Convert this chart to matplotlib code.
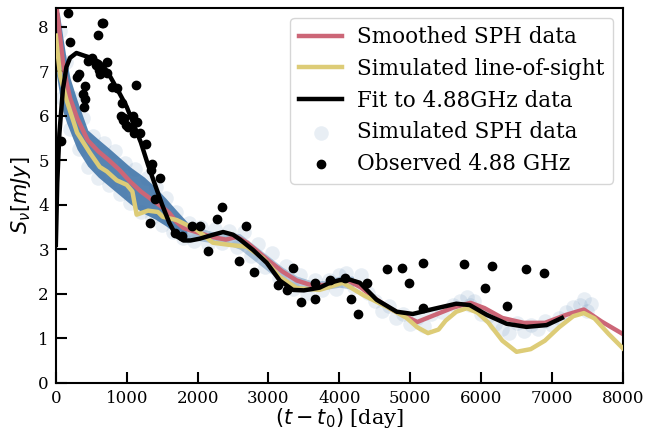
"""Radio light curve: SPH simulation vs observed 4.88 GHz flux."""

import matplotlib
matplotlib.use("agg")
import matplotlib.pyplot as plt
import numpy as np

# Smoothed SPH data (red)
smooth_t = [0, 50, 100, 150, 200, 300, 450, 600, 750, 900, 1050, 1200, 1350, 1500,
            1600, 1700, 1800, 2000, 2200, 2400, 2550, 2700, 2850, 3000, 3200, 3400,
            3600, 3800, 4000, 4100, 4300, 4500, 4750, 5100, 5350, 5600, 5850, 6050,
            6300, 6600, 6900, 7200, 7450, 7700, 8000]
smooth_s = [8.6, 7.9, 7.2, 6.75, 6.4, 5.95, 5.45, 5.2, 5.0, 4.78, 4.52, 4.3, 4.12, 3.95,
            3.82, 3.62, 3.48, 3.38, 3.28, 3.22, 3.28, 3.15, 2.95, 2.75, 2.5, 2.3,
            2.2, 2.2, 2.3, 2.32, 2.15, 1.9, 1.64, 1.37, 1.53, 1.69, 1.8, 1.68,
            1.46, 1.35, 1.35, 1.53, 1.65, 1.38, 1.1]

# Simulated line-of-sight (yellow)
los_t = [0, 60, 150, 300, 480, 620, 720, 860, 1000, 1080, 1140, 1300, 1440, 1510, 1705,
         1985, 2215, 2455, 2690, 2920, 3160, 3400, 3720, 4050, 4330, 4670, 4950, 5100,
         5250, 5400, 5500, 5650, 5800, 5950, 6100, 6300, 6500, 6700, 6900, 7100, 7300,
         7450, 7600, 7800, 8000]
los_s = [7.8, 6.9, 6.36, 5.62, 5.17, 4.85, 4.75, 4.55, 4.45, 4.3, 3.78, 3.87, 3.84, 3.73, 3.66,
         3.44, 3.15, 3.1, 3.06, 2.81, 2.38, 2.13, 2.09, 2.25, 1.98, 1.71, 1.46, 1.25,
         1.12, 1.2, 1.4, 1.6, 1.68, 1.58, 1.36, 0.95, 0.7, 0.76, 0.95, 1.25, 1.5,
         1.57, 1.45, 1.1, 0.78]

# Fit to 4.88 GHz data (black)
fit_t = [0, 20, 50, 100, 150, 200, 290, 400, 500, 620, 700, 760, 900, 1000, 1100, 1200,
         1300, 1400, 1500, 1600, 1700, 1800, 1900, 2030, 2200, 2360, 2500, 2600, 2780,
         2975, 3160, 3345, 3500, 3720, 3865, 4005, 4150, 4290, 4525, 4810, 5035, 5320,
         5650, 5840, 6080, 6360, 6640, 6925, 7140]
fit_s = [3.1, 4.5, 5.6, 6.6, 7.1, 7.3, 7.41, 7.35, 7.3, 7.2, 7.05, 6.9, 6.5, 6.2, 5.8, 5.4,
         4.9, 4.45, 4.0, 3.6, 3.3, 3.2, 3.2, 3.24, 3.32, 3.39, 3.33, 3.22, 2.99,
         2.7, 2.3, 2.09, 2.08, 2.14, 2.25, 2.31, 2.32, 2.25, 1.87, 1.6, 1.55, 1.66,
         1.78, 1.75, 1.53, 1.33, 1.26, 1.3, 1.46]

# Observed 4.88 GHz
obs_t = [70, 169, 200, 295, 325, 380, 395, 410, 410, 455, 510, 565, 600, 610, 620, 645, 665,
         720, 720, 790, 860, 915, 930, 945, 960, 990, 1015, 1090, 1100, 1130, 1140, 1185,
         1270, 1340, 1355, 1395, 1470, 1335, 1680, 1775, 1915, 2030, 2145, 2270, 2340,
         2585, 2690, 2795, 3130, 3255, 3345, 3465, 3650, 3650, 3865, 4075, 4170, 4260,
         4385, 4670, 4890, 4980, 5175, 5180, 5755, 6050, 6150, 6360, 6630, 6885]
obs_s = [5.44, 8.31, 7.66, 6.87, 6.94, 6.49, 6.2, 6.37, 6.67, 7.22, 7.3, 7.14, 7.82, 7.03, 6.94,
         8.09, 8.09, 7.2, 6.96, 6.65, 6.62, 6.0, 6.29, 5.91, 5.95, 5.8, 5.75, 6.0, 5.62, 6.7,
         5.87, 5.62, 5.37, 4.79, 4.92, 4.13, 4.61, 3.6, 3.37, 3.29, 3.53, 3.53, 2.97, 3.69,
         3.95, 2.75, 3.53, 2.5, 2.2, 2.09, 2.58, 1.82, 1.89, 2.25, 2.31, 2.36, 1.89, 1.55,
         2.24, 2.56, 2.58, 2.24, 1.68, 2.7, 2.67, 2.13, 2.63, 1.73, 2.56, 2.47]

# Simulated SPH data: dense core of the point cloud (edges of the band)
band_t = [0, 50, 100, 150, 200, 300, 450, 600, 750, 900, 1050, 1250, 1400, 1550, 1700,
          1850, 2000, 2200, 2400, 2600, 2800, 3000, 3200, 3400, 3600, 3800, 4000, 4200]
band_lo = [7.0, 6.5, 6.1, 5.85, 5.65, 5.25, 4.87, 4.62, 4.42, 4.22, 4.02, 3.8, 3.68, 3.53, 3.35,
           3.25, 3.2, 3.15, 3.12, 3.0, 2.75, 2.5, 2.25, 2.1, 2.05, 2.1, 2.15, 2.1]
band_hi = [8.45, 8.3, 7.75, 7.25, 6.85, 6.35, 5.68, 5.47, 5.27, 5.06, 4.85, 4.62, 4.4, 4.15, 3.88,
           3.62, 3.5, 3.4, 3.4, 3.35, 3.1, 2.85, 2.6, 2.4, 2.3, 2.3, 2.4, 2.4]
DENSE_END = 15  # index where the cloud becomes sparse

# Simulated SPH data: individual points
sph_t = [20, 60, 90, 150, 200, 260, 320, 380, 450, 520, 600, 680, 750, 830, 900, 980, 1050,
         1120, 1200, 1280, 1350, 1420, 1500, 1560, 1650, 1700, 1800, 1880, 1950, 2050,
         2150, 2250, 2350, 2450, 2550, 2650, 2750, 2850, 2950, 3050, 3150, 3250, 3350,
         3450, 3550, 3650, 3750, 3850, 3950, 4000, 4100, 4200, 4300, 4400, 4500, 4600,
         4700, 4800, 4900, 5000, 5100, 5200, 5300, 5450, 5600, 5700, 5800, 5850, 5900,
         6000, 6100, 6200, 6300, 6400, 6500, 6600, 6700, 6800, 6900, 7000, 7100, 7200,
         7300, 7400, 7450, 7500, 7550]
sph_s = [7.5, 7.9, 6.4, 7.2, 5.7, 6.4, 5.25, 5.95, 4.85, 5.55, 4.6, 5.4, 4.45, 5.2, 4.25, 4.95, 4.05,
         4.8, 3.85, 4.6, 3.72, 4.4, 3.55, 4.15, 3.4, 3.85, 3.25, 3.6, 3.18, 3.5,
         3.12, 3.45, 3.15, 3.42, 3.05, 3.38, 2.85, 3.12, 2.6, 2.92, 2.35, 2.62, 2.12,
         2.42, 2.02, 2.32, 2.08, 2.32, 2.12, 2.42, 2.48, 2.15, 2.42, 2.02, 1.85, 1.62,
         1.72, 1.47, 1.55, 1.32, 1.45, 1.27, 1.55, 1.6, 1.75, 1.85, 1.92, 1.75, 1.85,
         1.55, 1.5, 1.32, 1.22, 1.12, 1.35, 1.17, 1.3, 1.22, 1.4, 1.3, 1.45, 1.6,
         1.7, 1.75, 1.88, 1.62, 1.78]

RED = "#CC6677"
YELLOW = "#DDCC77"
BLUE = "#4477AA"

plt.rcParams["font.family"] = "DejaVu Serif"
plt.rcParams["mathtext.fontset"] = "dejavusans"

fig = plt.figure(figsize=(6.57, 4.33), dpi=100)
ax = fig.add_axes([0.085, 0.1155, 0.863, 0.866])

# SPH cloud
ax.fill_between(band_t[:DENSE_END + 1], band_lo[:DENSE_END + 1], band_hi[:DENSE_END + 1],
                color=BLUE, alpha=0.9, lw=0, zorder=1)
ax.fill_between(band_t[DENSE_END:], band_lo[DENSE_END:], band_hi[DENSE_END:],
                color=BLUE, alpha=0.4, lw=0, zorder=1)
ax.scatter(sph_t, sph_s, s=110, color=BLUE, alpha=0.12, lw=0, zorder=1,
           label="Simulated SPH data")

ax.plot(smooth_t, smooth_s, color=RED, lw=3.2, zorder=2, label="Smoothed SPH data")
ax.plot(los_t, los_s, color=YELLOW, lw=3.2, zorder=3, label="Simulated line-of-sight")
ax.plot(fit_t, fit_s, color="black", lw=3.2, zorder=4, label="Fit to 4.88GHz data")
ax.scatter(obs_t, obs_s, s=36, color="black", zorder=5, label="Observed 4.88 GHz")

ax.set_xlim(0, 8000)
ax.set_ylim(0, 8.42)
ax.set_xticks(np.arange(0, 8001, 1000))
ax.set_yticks(np.arange(0, 9, 1))
ax.tick_params(direction="in", length=8, width=1.5, labelsize=12, pad=5)
for sp in ax.spines.values():
    sp.set_linewidth(1.5)

ax.set_xlabel(r"$(t-t_0)$ [day]", fontsize=15, labelpad=-1)
ax.set_ylabel(r"$S_\nu [mJy]$", fontsize=15, labelpad=4)

handles, labels = ax.get_legend_handles_labels()
order = [labels.index(n) for n in ["Smoothed SPH data", "Simulated line-of-sight",
                                   "Fit to 4.88GHz data", "Simulated SPH data",
                                   "Observed 4.88 GHz"]]
ax.legend([handles[i] for i in order], [labels[i] for i in order], loc="upper right",
          fontsize=15.5, scatterpoints=1, handletextpad=0.7, labelspacing=0.45,
          borderaxespad=0.45)

fig.savefig("out.png", dpi=100)
